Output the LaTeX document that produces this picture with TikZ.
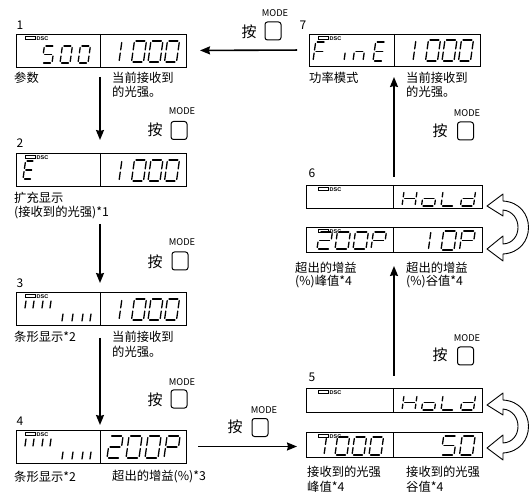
\documentclass[tikz,border=0pt]{standalone}
\usepackage{fontspec}
\setmainfont{Noto Sans CJK SC}
\newfontfamily\dscfont{Liberation Sans}
\usetikzlibrary{arrows.meta}

\tikzset{
  dispbox/.style={draw, line width=0.9pt, inner sep=0pt, outer sep=0pt},
  divl/.style={line width=0.8pt},
  seg/.style={line width=1.3pt, line cap=round},
  conn/.style={line width=1.6pt, -{Stealth[length=10pt,width=8pt,inset=1pt]}},
  lbl/.style={anchor=west, inner sep=0pt, font=\fontsize{12.3}{14}\selectfont},
  numl/.style={inner sep=0pt, font=\fontsize{12}{14}\selectfont},
  modetxt/.style={inner sep=0pt, font=\fontsize{9.3}{10}\selectfont},
  antxt/.style={inner sep=0pt, font=\fontsize{15}{16}\selectfont},
  btn/.style={draw, line width=1pt, rounded corners=2.5pt, minimum width=16pt, minimum height=18pt, inner sep=0pt},
  dsctxt/.style={anchor=west, inner sep=0pt, font=\dscfont\bfseries\fontsize{5.5}{6}\selectfont},
  swoosh/.style={draw, fill=white, line width=0.9pt, line join=round},
}

% seven segment definitions (local coords, y up)
\def\dgp{1.6}
\def\dsega{(\dgp,\dH) -- (\dW-\dgp,\dH)}
\def\dsegb{(\dW,\dH-\dgp) -- (\dW,\dH/2+\dgp)}
\def\dsegc{(\dW,\dH/2-\dgp) -- (\dW,\dgp)}
\def\dsegd{(\dgp,0) -- (\dW-\dgp,0)}
\def\dsege{(0,\dH/2-\dgp) -- (0,\dgp)}
\def\dsegf{(0,\dH-\dgp) -- (0,\dH/2+\dgp)}
\def\dsegg{(\dgp,\dH/2) -- (\dW-\dgp,\dH/2)}
\def\dsegp{(\dW/3,\dH-\dgp) -- (\dW/3,\dH/2+\dgp)}
\def\dsegq{(\dW/3,\dH/2-\dgp) -- (\dW/3,\dgp)}
\def\drawseg#1{\draw[seg] #1;}
\newcommand\dig[5]{%
  \begin{scope}[shift={(#1,#2)}, y=1pt, xslant=0.14]
    \def\dW{#3}\def\dH{#4}%
    \foreach \s in {#5}{\expandafter\drawseg\expandafter{\csname dseg\s\endcsname}}%
  \end{scope}}
% DSC indicator: box top-left corner
\newcommand\dscind[2]{%
  \draw[line width=0.7pt] (#1+9,#2+2.5) rectangle (#1+19,#2+5.5);
  \node[dsctxt] at (#1+20.5,#2+4.2) {DSC};}
% bar ticks
\newcommand\bars[2]{%
  \foreach \bx in {25,33,42,50}{\draw[seg] (\bx,#2+16) -- (\bx+1,#2+9);}
  \foreach \bx in {62,72,82,90}{\draw[seg] (\bx,#2+29) -- (\bx+1,#2+22);}}
% hollow curved double arrow, upper tip at (487,#1)
\newcommand\swooshar[1]{%
  \draw[swoosh] (487,#1) -- (503,#1-12) -- (503,#1-5)
    .. controls (537,#1-3) and (537,#1+46) .. (503,#1+48)
    -- (503,#1+55) -- (487,#1+43) -- (503,#1+30) -- (503,#1+38)
    .. controls (523,#1+37) and (523,#1+6) .. (503,#1+4)
    -- (503,#1+10) -- cycle;}

\begin{document}
\begin{tikzpicture}[x=1pt,y=-1pt]
\useasboundingbox (0,0) rectangle (530,502);

% ---------- displays ----------
\node[dispbox, minimum width=170pt, minimum height=33pt] (d1) at (101,50.5) {};
\node[dispbox, minimum width=170pt, minimum height=33pt] (d2) at (101,169.5) {};
\node[dispbox, minimum width=170pt, minimum height=33pt] (d3) at (101,308.5) {};
\node[dispbox, minimum width=170pt, minimum height=33pt] (d4) at (101,446.5) {};
\node[dispbox, minimum width=171pt, minimum height=32pt] (d7) at (394.5,50) {};
\node[dispbox, minimum width=176pt, minimum height=23pt] (d6a) at (394,196.5) {};
\node[dispbox, minimum width=176pt, minimum height=25pt] (d6b) at (394,239.5) {};
\node[dispbox, minimum width=176pt, minimum height=24pt] (d5a) at (394,400) {};
\node[dispbox, minimum width=176pt, minimum height=25pt] (d5b) at (394,444.5) {};

% dividers
\draw[divl] (100,34) -- (100,67);
\draw[divl] (100,153) -- (100,186);
\draw[divl] (100,292) -- (100,325);
\draw[divl] (100,430) -- (100,463);
\draw[divl] (394,34) -- (394,66);
\draw[divl] (393,185) -- (393,208);
\draw[divl] (393,227) -- (393,252);
\draw[divl] (393,388) -- (393,412);
\draw[divl] (393,432) -- (393,457);

% DSC indicators
\dscind{16}{34}
\dscind{16}{153}
\dscind{16}{292}
\dscind{16}{430}
\dscind{309}{34}
\dscind{309}{185}
\dscind{309}{227}
\dscind{309}{388}
\dscind{309}{432}

% ---------- digits ----------
% d1: 500 | 1000
\dig{42}{63}{10}{17}{a,f,g,c,d}
\dig{60}{63}{10}{17}{a,b,c,d,e,f}
\dig{78}{63}{10}{17}{a,b,c,d,e,f}
\dig{115}{62}{12}{21}{p,q}
\dig{131.5}{62}{12}{21}{a,b,c,d,e,f}
\dig{148}{62}{12}{21}{a,b,c,d,e,f}
\dig{164.5}{62}{12}{21}{a,b,c,d,e,f}
% d2: E | 1000
\dig{23}{179}{9}{18}{a,f,g,e,d}
\dig{115}{181}{12}{21}{p,q}
\dig{131.5}{181}{12}{21}{a,b,c,d,e,f}
\dig{148}{181}{12}{21}{a,b,c,d,e,f}
\dig{164.5}{181}{12}{21}{a,b,c,d,e,f}
% d3: bars | 1000
\bars{16}{292}
\dig{115}{320}{12}{21}{p,q}
\dig{131.5}{320}{12}{21}{a,b,c,d,e,f}
\dig{148}{320}{12}{21}{a,b,c,d,e,f}
\dig{164.5}{320}{12}{21}{a,b,c,d,e,f}
% d4: bars | 200P
\bars{16}{430}
\dig{107}{458}{13}{22}{a,b,g,e,d}
\dig{126}{458}{13}{22}{a,b,c,d,e,f}
\dig{145}{458}{13}{22}{a,b,c,d,e,f}
\dig{164}{458}{13}{22}{a,b,g,f,e}
% d7: FinE | 1000
\dig{313}{61}{10}{19}{a,f,g,e}
\dig{334}{61}{10}{19}{c}
\dig{353}{61}{10}{19}{c,e,g}
\dig{373}{61}{10}{19}{a,f,g,e,d}
\dig{409}{61}{12}{21}{p,q}
\dig{425.5}{61}{12}{21}{a,b,c,d,e,f}
\dig{442}{61}{12}{21}{a,b,c,d,e,f}
\dig{458.5}{61}{12}{21}{a,b,c,d,e,f}
% d6a / d5a: HoLd
\dig{402}{206}{13}{15}{b,c,e,f,g}
\dig{421.5}{206}{13}{15}{c,d,e,g}
\dig{441}{206}{13}{15}{f,e,d}
\dig{460.5}{206}{13}{15}{b,c,d,e,g}
\dig{402}{410}{13}{15}{b,c,e,f,g}
\dig{421.5}{410}{13}{15}{c,d,e,g}
\dig{441}{410}{13}{15}{f,e,d}
\dig{460.5}{410}{13}{15}{b,c,d,e,g}
% d6b: 200P | 10P
\dig{317}{249}{13}{17}{a,b,g,e,d}
\dig{335}{249}{13}{17}{a,b,c,d,e,f}
\dig{353}{249}{13}{17}{a,b,c,d,e,f}
\dig{371}{249}{13}{17}{a,b,g,f,e}
\dig{424}{250}{13}{19}{p,q}
\dig{441}{250}{13}{19}{a,b,c,d,e,f}
\dig{459.5}{250}{13}{19}{a,b,g,f,e}
% d5b: 1000 | 50
\dig{320}{455}{12}{18}{p,q}
\dig{335}{455}{12}{18}{a,b,c,d,e,f}
\dig{352}{455}{12}{18}{a,b,c,d,e,f}
\dig{369}{455}{12}{18}{a,b,c,d,e,f}
\dig{441}{455}{13}{19}{a,f,g,c,d}
\dig{459.5}{455}{13}{19}{a,b,c,d,e,f}

% ---------- step numbers ----------
\node[numl] (n1) at (20,25) {1};
\node[numl] (n2) at (20,143) {2};
\node[numl] (n3) at (20,283) {3};
\node[numl] (n4) at (20,421) {4};
\node[numl] (n5) at (312,377) {5};
\node[numl] (n6) at (312,173) {6};
\node[numl] (n7) at (303,25) {7};

% ---------- labels ----------
\node[lbl] (l1a) at (14,78) {参数};
\node[lbl] (l1b) at (112,78) {当前接收到};
\node[lbl] (l1c) at (112,92) {的光强。};
\node[lbl] (l2a) at (14,198) {扩充显示};
\node[lbl] (l2b) at (14,213) {(接收到的光强)*1};
\node[lbl] (l3a) at (14,337) {条形显示*2};
\node[lbl] (l3b) at (112,337) {当前接收到};
\node[lbl] (l3c) at (112,352) {的光强。};
\node[lbl] (l4a) at (14,477) {条形显示*2};
\node[lbl] (l4b) at (112,477) {超出的增益(\%)*3};
\node[lbl] (l5a) at (307,472) {接收到的光强};
\node[lbl] (l5b) at (307,487) {峰值*4};
\node[lbl] (l5c) at (406,472) {接收到的光强};
\node[lbl] (l5d) at (406,487) {谷值*4};
\node[lbl] (l6a) at (295,268) {超出的增益};
\node[lbl] (l6b) at (295,282) {(\%)峰值*4};
\node[lbl] (l6c) at (406,268) {超出的增益};
\node[lbl] (l6d) at (406,282) {(\%)谷值*4};
\node[lbl] (l7a) at (309,78) {功率模式};
\node[lbl] (l7b) at (406,78) {当前接收到};
\node[lbl] (l7c) at (406,92) {的光强。};

% ---------- MODE buttons ----------
\node[modetxt] (m1) at (275,13) {MODE};
\node[antxt] (p1) at (249,32) {按};
\node[btn] (b1) at (273,31) {};
\node[modetxt] (m2) at (182,111) {MODE};
\node[antxt] (p2) at (155,130) {按};
\node[btn] (b2) at (179,130.5) {};
\node[modetxt] (m3) at (182,242) {MODE};
\node[antxt] (p3) at (155,262) {按};
\node[btn] (b3) at (180,261) {};
\node[modetxt] (m4) at (182,382) {MODE};
\node[antxt] (p4) at (155,400) {按};
\node[btn] (b4) at (179,399) {};
\node[modetxt] (m5) at (264,410) {MODE};
\node[antxt] (p5) at (235,427) {按};
\node[btn] (b5) at (260,427.5) {};
\node[modetxt] (m6) at (467,338) {MODE};
\node[antxt] (p6) at (440,355) {按};
\node[btn] (b6) at (465.5,356) {};
\node[modetxt] (m7) at (467,113) {MODE};
\node[antxt] (p7) at (440,131) {按};
\node[btn] (b7) at (465.5,131) {};

% ---------- connector anchor points ----------
\coordinate (d1b) at (100,67);
\coordinate (d2t) at (100,153);
\coordinate (d2b) at (100,186);
\coordinate (d3t) at (100,292);
\coordinate (d3b) at (100,325);
\coordinate (d4t) at (100,430);
\coordinate (d5t) at (394,388);
\coordinate (d6bb) at (394,252);
\coordinate (d6t) at (394,185);
\coordinate (d7b) at (394,66);

% ---------- connectors ----------
\draw[conn, shorten <=12pt, shorten >=14pt] (d7.west) -- (d1.east);
\draw[conn, shorten <=10pt, shorten >=13pt] (d1b) -- (d2t);
\draw[conn, shorten <=38pt, shorten >=9pt] (d2b) -- (d3t);
\draw[conn, shorten <=13pt, shorten >=5pt] (d3b) -- (d4t);
\draw[conn, shorten <=12pt, shorten >=9pt] (d4.east) -- (d4.east -| d5b.west);
\draw[conn, shorten <=12pt, shorten >=14pt] (d5t) -- (d6bb);
\draw[conn, shorten <=8pt, shorten >=11pt] (d6t) -- (d7b);

% ---------- hollow double arrows ----------
\swooshar{206}
\swooshar{405}
\end{tikzpicture}
\end{document}
